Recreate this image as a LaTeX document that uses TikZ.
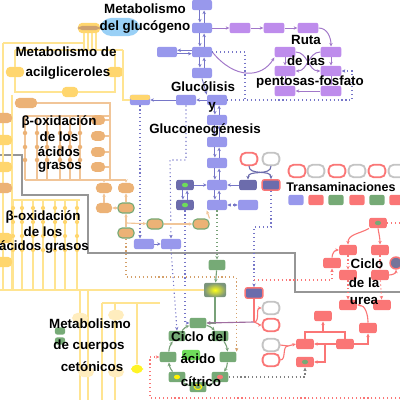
\documentclass[tikz,border=0pt]{standalone}
\usepackage{fontspec}
\setmainfont{Liberation Sans}
\usetikzlibrary{arrows.meta}
\definecolor{glyblue}{RGB}{152,152,236}
\definecolor{glydark}{RGB}{118,118,200}
\definecolor{pppurple}{RGB}{190,140,236}
\definecolor{lipyel}{RGB}{255,214,110}
\definecolor{lipln}{RGB}{255,228,145}
\definecolor{lipbrown}{RGB}{205,160,110}
\definecolor{oxtan}{RGB}{236,178,118}
\definecolor{tcagreen}{RGB}{118,170,118}
\definecolor{ureared}{RGB}{250,118,118}
\definecolor{slate}{RGB}{108,108,172}
\definecolor{ringgray}{RGB}{196,196,196}
\definecolor{memgray}{RGB}{150,150,150}
\definecolor{glycblue}{RGB}{135,200,245}
\definecolor{mauve}{RGB}{160,110,160}
\definecolor{brightgreen}{RGB}{110,220,90}
\begin{document}
\begin{tikzpicture}[x=0.025cm,y=-0.025cm,
  box/.style={rounded corners=1.5pt,minimum width=0.5cm,minimum height=0.26cm,inner sep=0pt},
  gly/.style={box,fill=glyblue},
  ppp/.style={box,fill=pppurple,minimum width=0.52cm},
  lip/.style={box,fill=lipyel,rounded corners=3pt,minimum width=0.45cm},
  ox/.style={box,fill=oxtan,rounded corners=3pt,minimum width=0.4cm,minimum height=0.25cm},
  oxg/.style={ox,draw=tcagreen,line width=0.8pt},
  tca/.style={box,fill=tcagreen,minimum width=0.42cm},
  urea/.style={box,fill=ureared,minimum width=0.44cm},
  dark/.style={box,fill=slate,minimum width=0.44cm},
  ring/.style={draw=#1,line width=1.3pt,fill=white,rounded corners=3.5pt,minimum width=0.42cm,minimum height=0.31cm,inner sep=0pt},
  spot/.style={path picture={\fill[#1] (path picture bounding box.center) ellipse (2.2pt and 1.6pt);}},
  ringspot/.style={path picture={\draw[#1,line width=0.8pt] (path picture bounding box.center) ellipse (2.6pt and 1.8pt);}},
  lab/.style={font=\fontsize{9.5}{11}\selectfont\bfseries,inner sep=0pt},
  stealthtip/.style={-{Stealth[length=2.6pt,width=2.4pt]}},
  gline/.style={glydark,line width=0.6pt},
  garr/.style={gline,stealthtip},
  gdot/.style={glydark,line width=0.8pt,dotted},
  parr/.style={pppurple!85!black,line width=0.7pt,stealthtip},
  lline/.style={lipln,line width=0.8pt},
  oline/.style={oxtan!75,line width=0.8pt},
  oarr/.style={oline,stealthtip},
  odot/.style={oxtan!90!black,line width=0.8pt,dotted},
  tline/.style={tcagreen!80!gray,line width=0.8pt},
  tarr/.style={tline,stealthtip},
  uline/.style={ureared,line width=0.8pt},
  uarr/.style={uline,stealthtip},
  udot/.style={ureared,line width=0.8pt,dotted},
  kline/.style={memgray,line width=0.8pt},
  kdot/.style={gray,line width=0.8pt,dotted}]
\useasboundingbox (0,0) rectangle (400,400);
\clip (0,0) rectangle (400,400);
\node[fill=glycblue!85,rounded corners=8pt,minimum width=1cm,minimum height=0.45cm] (glyc) at (120,27) {};
\draw[kline] (0,155) -- (22,155) -- (22,195) -- (88,195) -- (88,253) -- (295,253) -- (295,292) -- (400,292);
\foreach \x in {84,88,92,96} \draw[lline] (\x,33) -- (\x,50);
\draw[lline] (15,50) -- (123,50);
\draw[lline] (3,43) -- (84,43);
\draw[lline] (3,43) -- (3,290);
\draw[lline] (12,95) -- (12,290);
\draw[lline] (13,200) -- (80,200);
\foreach \x in {13,22,33,43,55,65,77} \draw[lline] (\x,200) -- (\x,290);
\foreach \x in {13,22,33,43,55,65,77} \foreach \y in {208,222,236,250} \fill[lipyel] (\x,\y) circle (1.5pt);
\draw[lline] (0,290) -- (80,290);
\draw[lline] (80,290) -- (80,400);
\draw[lline] (88,290) -- (88,400);
\draw[lline] (102,303) -- (102,400);
\draw[lline] (102,303) -- (160,303);
\draw[lline] (115,303) -- (115,400);
\foreach \x in {25,37,47,60,70,80} \draw[oline] (\x,116) -- (\x,180);
\foreach \x in {25,37,47,60,70,80} \foreach \y in {133,147,160} \fill[oxtan] (\x,\y) circle (1.6pt);
\draw[oline] (25,180) -- (126,180);
\draw[oline] (25,116) -- (110,116);
\node[gly] (g1) at (202,5) {};
\node[gly] (g2) at (202,28) {};
\node[gly] (g3) at (202,52) {};
\node[gly] (g3l) at (167,52) {};
\node[gly] (g4) at (202,73) {};
\node[gly,path picture={\fill[lipyel] (path picture bounding box.north west) rectangle (path picture bounding box.east);}] (gj) at (140,100) {};
\node[gly] (g5l) at (186,100) {};
\node[gly] (g5) at (217,100) {};
\node[gly] (g6) at (217,120) {};
\node[gly] (g7) at (217,142) {};
\node[gly] (g8) at (217,163) {};
\node[gly] (g9) at (217,185) {};
\node[gly] (g10) at (217,205) {};
\node[gly] (g11) at (248,205) {};
\node[dark,spot=brightgreen] (d1) at (185,185) {};
\node[dark,spot=brightgreen] (d2) at (185,205) {};
\node[dark] (d3) at (248,185) {};
\node[dark,draw=ureared,line width=1pt] (d4) at (271,185) {};
\node[ring=ureared] (cr) at (249,159) {};
\node[ring=ringgray] (cg) at (271,159) {};
\node[gly] (bb1) at (144,244) {};
\node[gly] (bb2) at (171,244) {};
\node[ppp] (p1) at (240,28) {};
\node[ppp] (p2) at (274,28) {};
\node[ppp] (p3) at (308,28) {};
\node[ppp] (p4) at (285,52) {};
\node[ppp] (p5) at (331,52) {};
\node[ppp] (p6) at (285,71) {};
\node[ppp] (p7) at (331,71) {};
\node[ppp] (p8) at (285,91) {};
\node[ppp] (p9) at (331,91) {};
\node[lip,minimum width=0.55cm,path picture={\fill[lipbrown] ([yshift=-1.5pt]path picture bounding box.west) rectangle ([yshift=1.5pt]path picture bounding box.east);}] (l1) at (89,28) {};
\node[lip] (l2) at (15,72) {};
\node[lip,minimum width=0.4cm] (l3) at (115,72) {};
\node[lip,minimum width=0.4cm] (l4) at (70,92) {};
\node[ox,minimum width=0.55cm] (l5) at (26,103) {};
\node[ox] (y1) at (4,118) {};
\node[lip,minimum width=0.4cm] (y2) at (4,140) {};
\node[lip,minimum width=0.4cm] (y3) at (4,167) {};
\node[ox] (y4) at (4,188) {};
\node[lip,minimum width=0.4cm] (y5) at (4,238) {};
\node[lip,minimum width=0.4cm] (y6) at (4,262) {};
\node[ox,minimum width=0.35cm,minimum height=0.24cm] (b1) at (98,120) {};
\node[ox,minimum width=0.35cm,minimum height=0.24cm] (b2) at (98,136) {};
\node[ox,minimum width=0.35cm,minimum height=0.24cm] (b3) at (98,152) {};
\node[ox,minimum width=0.35cm,minimum height=0.24cm] (b4) at (98,167) {};
\node[ox] (o1) at (104,188) {};
\node[ox] (o2) at (126,188) {};
\node[ox] (o3) at (104,208) {};
\node[oxg] (o4) at (126,208) {};
\node[oxg] (o5) at (126,233) {};
\node[oxg] (o6) at (155,224) {};
\node[oxg] (o7) at (201,224) {};
\coordinate (oj) at (126,223);
\node[tca] (t0) at (217,265) {};
\node[box,minimum width=0.55cm,minimum height=0.36cm,inner color=yellow!90,outer color=gray!50!tcagreen] (ta) at (215,290) {};
\node[box,fill=brightgreen,minimum width=0.45cm] (tg) at (191,355) {};
\node[tca] (t1) at (198,323) {};
\node[tca] (t2) at (177,336) {};
\node[tca] (t3) at (168,357) {};
\node[tca,spot=yellow] (t4) at (177,377) {};
\node[tca,ringspot=yellow] (t5) at (198,387) {};
\node[tca,spot=ureared] (t6) at (220,377) {};
\node[tca] (t7) at (228,357) {};
\node[tca] (t8) at (220,336) {};
\node[dark,draw=ureared,line width=1pt] (dk1) at (254,293) {};
\node[ring=ringgray] (c1) at (271,308) {};
\node[ring=ureared] (c2) at (271,325) {};
\node[ring=ringgray] (c3) at (271,345) {};
\node[ring=ureared] (c4) at (271,360) {};
\node[urea] (r1) at (323,316) {};
\node[urea] (r2) at (305,344) {};
\node[urea] (r3) at (345,344) {};
\node[urea,spot=tcagreen] (r4) at (305,362) {};
\node[urea] (r5) at (368,328) {};
\node[urea,spot=tcagreen] (u1) at (378,223) {};
\node[urea] (u2) at (348,250) {};
\node[urea] (u3) at (380,250) {};
\node[urea] (u4) at (332,263) {};
\node[urea] (u5) at (348,275) {};
\node[urea] (u6) at (380,275) {};
\node[urea] (u7) at (348,305) {};
\node[urea] (u8) at (382,305) {};
\node[circle,fill=slate!60!gray,draw=ureared,line width=1pt,minimum size=0.3cm,inner sep=0pt] (u9) at (396,263) {};
\foreach \x/\c [count=\i] in {297/ureared,316/ringgray,337/ureared,357/ringgray,377/ureared,397/ringgray}
  \node[ring=\c] (tr\i) at (\x,171) {};
\foreach \x/\c [count=\i] in {296/glyblue,316/ureared,336/tcagreen,357/ureared,377/tcagreen,397/ureared}
  \node[box,fill=\c,minimum width=0.38cm] (tb\i) at (\x,200) {};
\node[box,fill=lipyel!45,rounded corners=4pt,minimum width=0.4cm] (k1) at (80,318) {};
\node[box,fill=lipyel!45,rounded corners=4pt,minimum width=0.4cm] (k2) at (116,315) {};
\node[box,fill=lipyel!45,rounded corners=4pt,minimum width=0.4cm] (k3) at (86,372) {};
\node[box,fill=lipyel!45,rounded corners=4pt,minimum width=0.4cm] (k4) at (116,372) {};
\node[box,fill=tcagreen,minimum width=0.25cm,minimum height=0.18cm] (k5) at (60,331) {};
\node[box,fill=tcagreen,minimum width=0.25cm,minimum height=0.18cm] (k6) at (60,341) {};
\node[box,fill=yellow!85,rounded corners=4pt,minimum width=0.3cm,minimum height=0.22cm] (k7) at (137,369) {};
\foreach \a/\b in {g1/g2,g2/g3,g3/g4,g5/g6,g6/g7,g7/g8,g8/g9,g9/g10,d1/d2} {
  \draw[garr] ([xshift=-1.5pt]\a.south) -- ([xshift=-1.5pt]\b.north);
  \draw[garr] ([xshift=1.5pt]\b.north) -- ([xshift=1.5pt]\a.south);
}
\draw[garr] ([yshift=1.2pt]g3.west) -- ([yshift=1.2pt]g3l.east);
\draw[garr] ([yshift=-1.2pt]g3l.east) -- ([yshift=-1.2pt]g3.west);
\draw[garr] (g4.south) -- (g5.north west);
\draw[garr] (g5) -- (g5l);
\draw[garr] (g5l) -- (gj);
\draw[garr] (d1) -- (g9);
\draw[garr] (d3) -- (g9);
\draw[gdot,{Stealth[length=2.6pt,width=2.4pt]}-{Stealth[length=2.6pt,width=2.4pt]}] (g10) -- (g11);
\draw[slate,line width=0.8pt,stealthtip] (cr.south) to[out=-90,in=90] (d4.north);
\draw[slate,line width=0.8pt,stealthtip] (cg.south) to[out=-90,in=90] (d3.north);
\draw[garr] (bb1) -- (bb2);
\draw[gdot,stealthtip] (gj.south) -- (gj.south |- bb1.north);
\draw[gdot,stealthtip] (g5l.south) |- (170,160) -- (bb2.north);
\draw[gdot,stealthtip] (bb2.south) -- (t2.north);
\draw[gdot,stealthtip] (d2.south) |- (t1.west);
\draw[gdot,stealthtip] (d4.south) |- (254,227) -- (dk1.north);
\draw[parr] (g2) -- (p1);
\draw[parr] (p1) -- (p2);
\draw[parr] (p2) -- (p3);
\draw[parr] (g3.east) .. controls (235,80) and (262,78) .. (p4.south west);
\draw[parr] (p3.east) to[out=0,in=90] (p5.north);
\draw[parr] (p4.east) to[out=0,in=180] (p7.west);
\draw[parr] (p5.west) to[out=180,in=0] (p6.east);
\draw[parr] (p4) -- (p6);
\draw[parr] (p5) -- (p7);
\draw[parr] (p6) -- (p8);
\draw[parr] (p7) -- (p9);
\draw[parr] (p9) -- (p8);
\draw[gdot] (g3.east) -- (245,52) -- (245,100);
\draw[gdot,stealthtip] (g5.east) -- (352,100) -- (352,71) -- (p7.east);
\draw[lline] (l2) -- (15,50);
\draw[lline] (l3) -- (115,50);
\draw[lline] (123,50) |- (gj.west);
\draw[lline] (l2.south) |- (l4.west);
\draw[lline] (l3.south) |- (l4.east);
\draw[oline] (l5.east) -- (110,103) -- (110,180);
\foreach \n in {b1,b2,b3,b4} \draw[oline] (\n.east) -- ++(5,0);
\draw[oarr] (104,180) -- (o1);
\draw[oarr] (126,180) -- (o2);
\draw[oarr] (o3) -- (o1);
\draw[oarr] (o4) -- (o2);
\draw[oarr] (o4) -- (o3);
\draw[oarr] (o5) -- (o4);
\draw[oarr] (oj) -- (o6);
\draw[oarr] (o6) -- (o7);
\draw[oarr] (o7.north east) -- (g10.south west);
\draw[odot,stealthtip] (o5.south) |- (233,277) -| (t7.north east);
\draw[lline] (80,290) -- (ta.west);
\draw[lline] (137,303) -- (k7.north);
\draw[tline,dotted,stealthtip] (g10.south) -- (t0.north);
\draw[tarr] (t0) -- (ta);
\draw[tarr] (ta.south) |- (t1.east);
\foreach \a/\b in {t1/t8,t8/t7,t7/t6,t6/t5,t5/t4,t4/t3,t3/t2,t2/t1}
  \draw[tarr] (\a) to[bend left=15] (\b);
\coordinate (kj) at (254,322);
\draw[mauve,line width=0.8pt,stealthtip] (kj) -- (t1.east);
\draw[uline] (dk1.south) -- (kj);
\draw[uarr] (kj) to[out=0,in=180] (c1.west);
\draw[uarr] (kj) to[out=0,in=180] (c2.west);
\coordinate (cj) at (288,346);
\draw[uline] (c3.east) to[out=0,in=180] (cj);
\draw[uline] (c4.east) to[out=0,in=180] (cj);
\draw[uarr] (cj) -- (r2.west);
\draw[uline] (r2.north) |- (345,332) -- (r3.north);
\draw[uarr] (323,332) -- (r1.south);
\draw[uarr] (r3.west) -- (r2.east);
\draw[uarr] (325,344) |- (r4.east);
\draw[uarr] (r3.east) -| (r5.south);
\draw[uarr] (r5.north) to[out=90,in=0] (u7.east);
\coordinate (rb) at (254,280);
\draw[udot,stealthtip] (rb) -| (u4.south);
\coordinate (bedge) at (400,398);
\draw[udot,stealthtip] (bedge) -- (150,398) |- (t3.west);
\draw[kdot,stealthtip] (t6.east) -| (r4.south);
\coordinate (uedge) at (400,223);
\draw[udot] (u1.east) -- (uedge);
\draw[uarr] (u1.south west) to[out=210,in=90] (u2.north);
\draw[uarr] (u1.south) to[out=-80,in=90] (u3.north);
\draw[udot,stealthtip] (u2) -- (u5);
\draw[udot,stealthtip] (u3) -- (u6);
\draw[udot,stealthtip] (u5) -- (u7);
\draw[udot,stealthtip] (u6) -- (u8);
\draw[uarr] (u4.north) to[out=90,in=180] (u2.west);
\draw[uarr] (u6.east) to[out=0,in=-90] (u9.south);
\node[lab] (lbGa) at (145,9) {Metabolismo};
\node[lab] (lbGb) at (145,27) {del glucógeno};
\node[lab] (lbAa) at (66,52) {Metabolismo de};
\node[lab] (lbAb) at (68,73) {acilgliceroles};
\node[lab] (lbYa) at (203,87) {Glucólisis};
\node[lab] (lbYb) at (212,107) {y};
\node[lab] (lbYc) at (205,130) {Gluconeogénesis};
\node[lab] (lbPa) at (306,40) {Ruta};
\node[lab] (lbPb) at (306,61) {de las};
\node[lab] (lbPc) at (310,82) {pentosas-fosfato};
\node[lab] (lbBa) at (59,122) {β-oxidación};
\node[lab] (lbBb) at (59,137) {de los};
\node[lab] (lbBc) at (59,152) {ácidos};
\node[lab] (lbBd) at (60,167) {grasos};
\node[lab] (lbCa) at (43,217) {β-oxidación};
\node[lab] (lbCb) at (43,232) {de los};
\node[lab] (lbCc) at (44,247) {ácidos grasos};
\node[lab,anchor=west,font=\fontsize{8.9}{11}\selectfont\bfseries] (lbT) at (286,187) {Transaminaciones};
\node[lab] (lbKa) at (90,324) {Metabolismo};
\node[lab] (lbKb) at (89,346) {de cuerpos};
\node[lab] (lbKc) at (92,367) {cetónicos};
\node[lab] (lbTa) at (199,337) {Ciclo del};
\node[lab] (lbTb) at (198,359) {ácido};
\node[lab] (lbTc) at (201,382) {cítrico};
\node[lab] (lbUa) at (367,264) {Ciclo};
\node[lab] (lbUb) at (364,283) {de la};
\node[lab] (lbUc) at (364,301) {urea};
\end{tikzpicture}
\end{document}
